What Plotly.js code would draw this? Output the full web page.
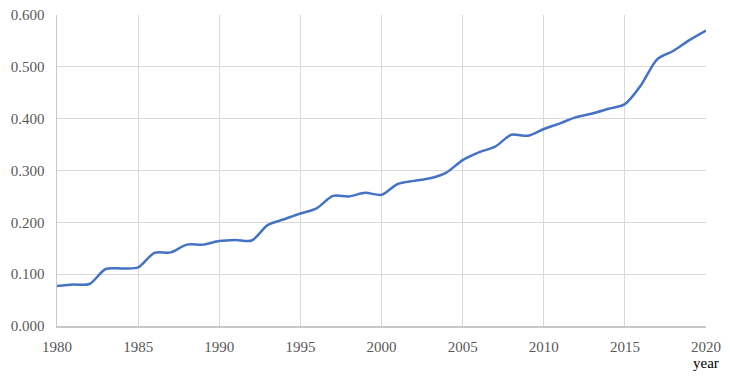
<!DOCTYPE html>
<html>
<head>
<meta charset="utf-8">
<script src="https://cdn.plot.ly/plotly-3.0.1.min.js"></script>
<style>html,body{margin:0;padding:0;background:#fff;}#chart{width:730px;height:380px;}</style>
</head>
<body>
<div id="chart"></div>
<script>
const years = [1980,1981,1982,1983,1984,1985,1986,1987,1988,1989,1990,1991,1992,1993,1994,1995,1996,1997,1998,1999,2000,2001,2002,2003,2004,2005,2006,2007,2008,2009,2010,2011,2012,2013,2014,2015,2016,2017,2018,2019,2020];
const values = [0.077,0.080,0.081,0.110,0.111,0.113,0.141,0.142,0.157,0.157,0.164,0.166,0.165,0.195,0.206,0.217,0.227,0.251,0.250,0.257,0.253,0.274,0.280,0.285,0.296,0.320,0.335,0.346,0.369,0.367,0.380,0.391,0.403,0.410,0.419,0.428,0.465,0.515,0.531,0.552,0.570];
const xTicks = [1980,1985,1990,1995,2000,2005,2010,2015,2020];
const yTicks = [0,0.1,0.2,0.3,0.4,0.5,0.6];
const yTickLabels = ['0.000','0.100','0.200','0.300','0.400','0.500','0.600'];
const xTitle = 'year';

const serif = 'Liberation Serif, Times New Roman, serif';
const tickFont = {family: serif, size: 15, color: '#595959'};
Plotly.newPlot('chart', [{
  x: years, y: values, type: 'scatter', mode: 'lines',
  line: {color: '#4472C4', width: 2.5, shape: 'spline', smoothing: 0.8},
  hoverinfo: 'skip'
}], {
  width: 730, height: 380,
  margin: {l: 56.5, r: 23.5, t: 15, b: 54},
  paper_bgcolor: '#fff', plot_bgcolor: '#fff',
  showlegend: false,
  xaxis: {
    range: [1980, 2020], tickvals: xTicks, ticktext: xTicks.map(String),
    tickfont: tickFont, showgrid: true, gridcolor: '#d9d9d9', gridwidth: 1,
    showline: true, linecolor: '#c8c8c8', linewidth: 1.5, zeroline: false,
    ticks: '', ticklabelstandoff: 6
  },
  yaxis: {
    range: [0, 0.6], tickvals: yTicks, ticktext: yTickLabels,
    tickfont: tickFont, showgrid: true, gridcolor: '#d9d9d9', gridwidth: 1,
    showline: true, linecolor: '#c8c8c8', linewidth: 1.5, zeroline: false,
    ticks: '', ticklabelstandoff: 8
  },
  annotations: [{
    text: xTitle, xref: 'paper', yref: 'paper', x: 1, y: -0.119,
    xanchor: 'center', yanchor: 'middle', showarrow: false,
    font: {family: serif, size: 15, color: '#000'}
  }]
}, {staticPlot: true});
</script>
</body>
</html>
